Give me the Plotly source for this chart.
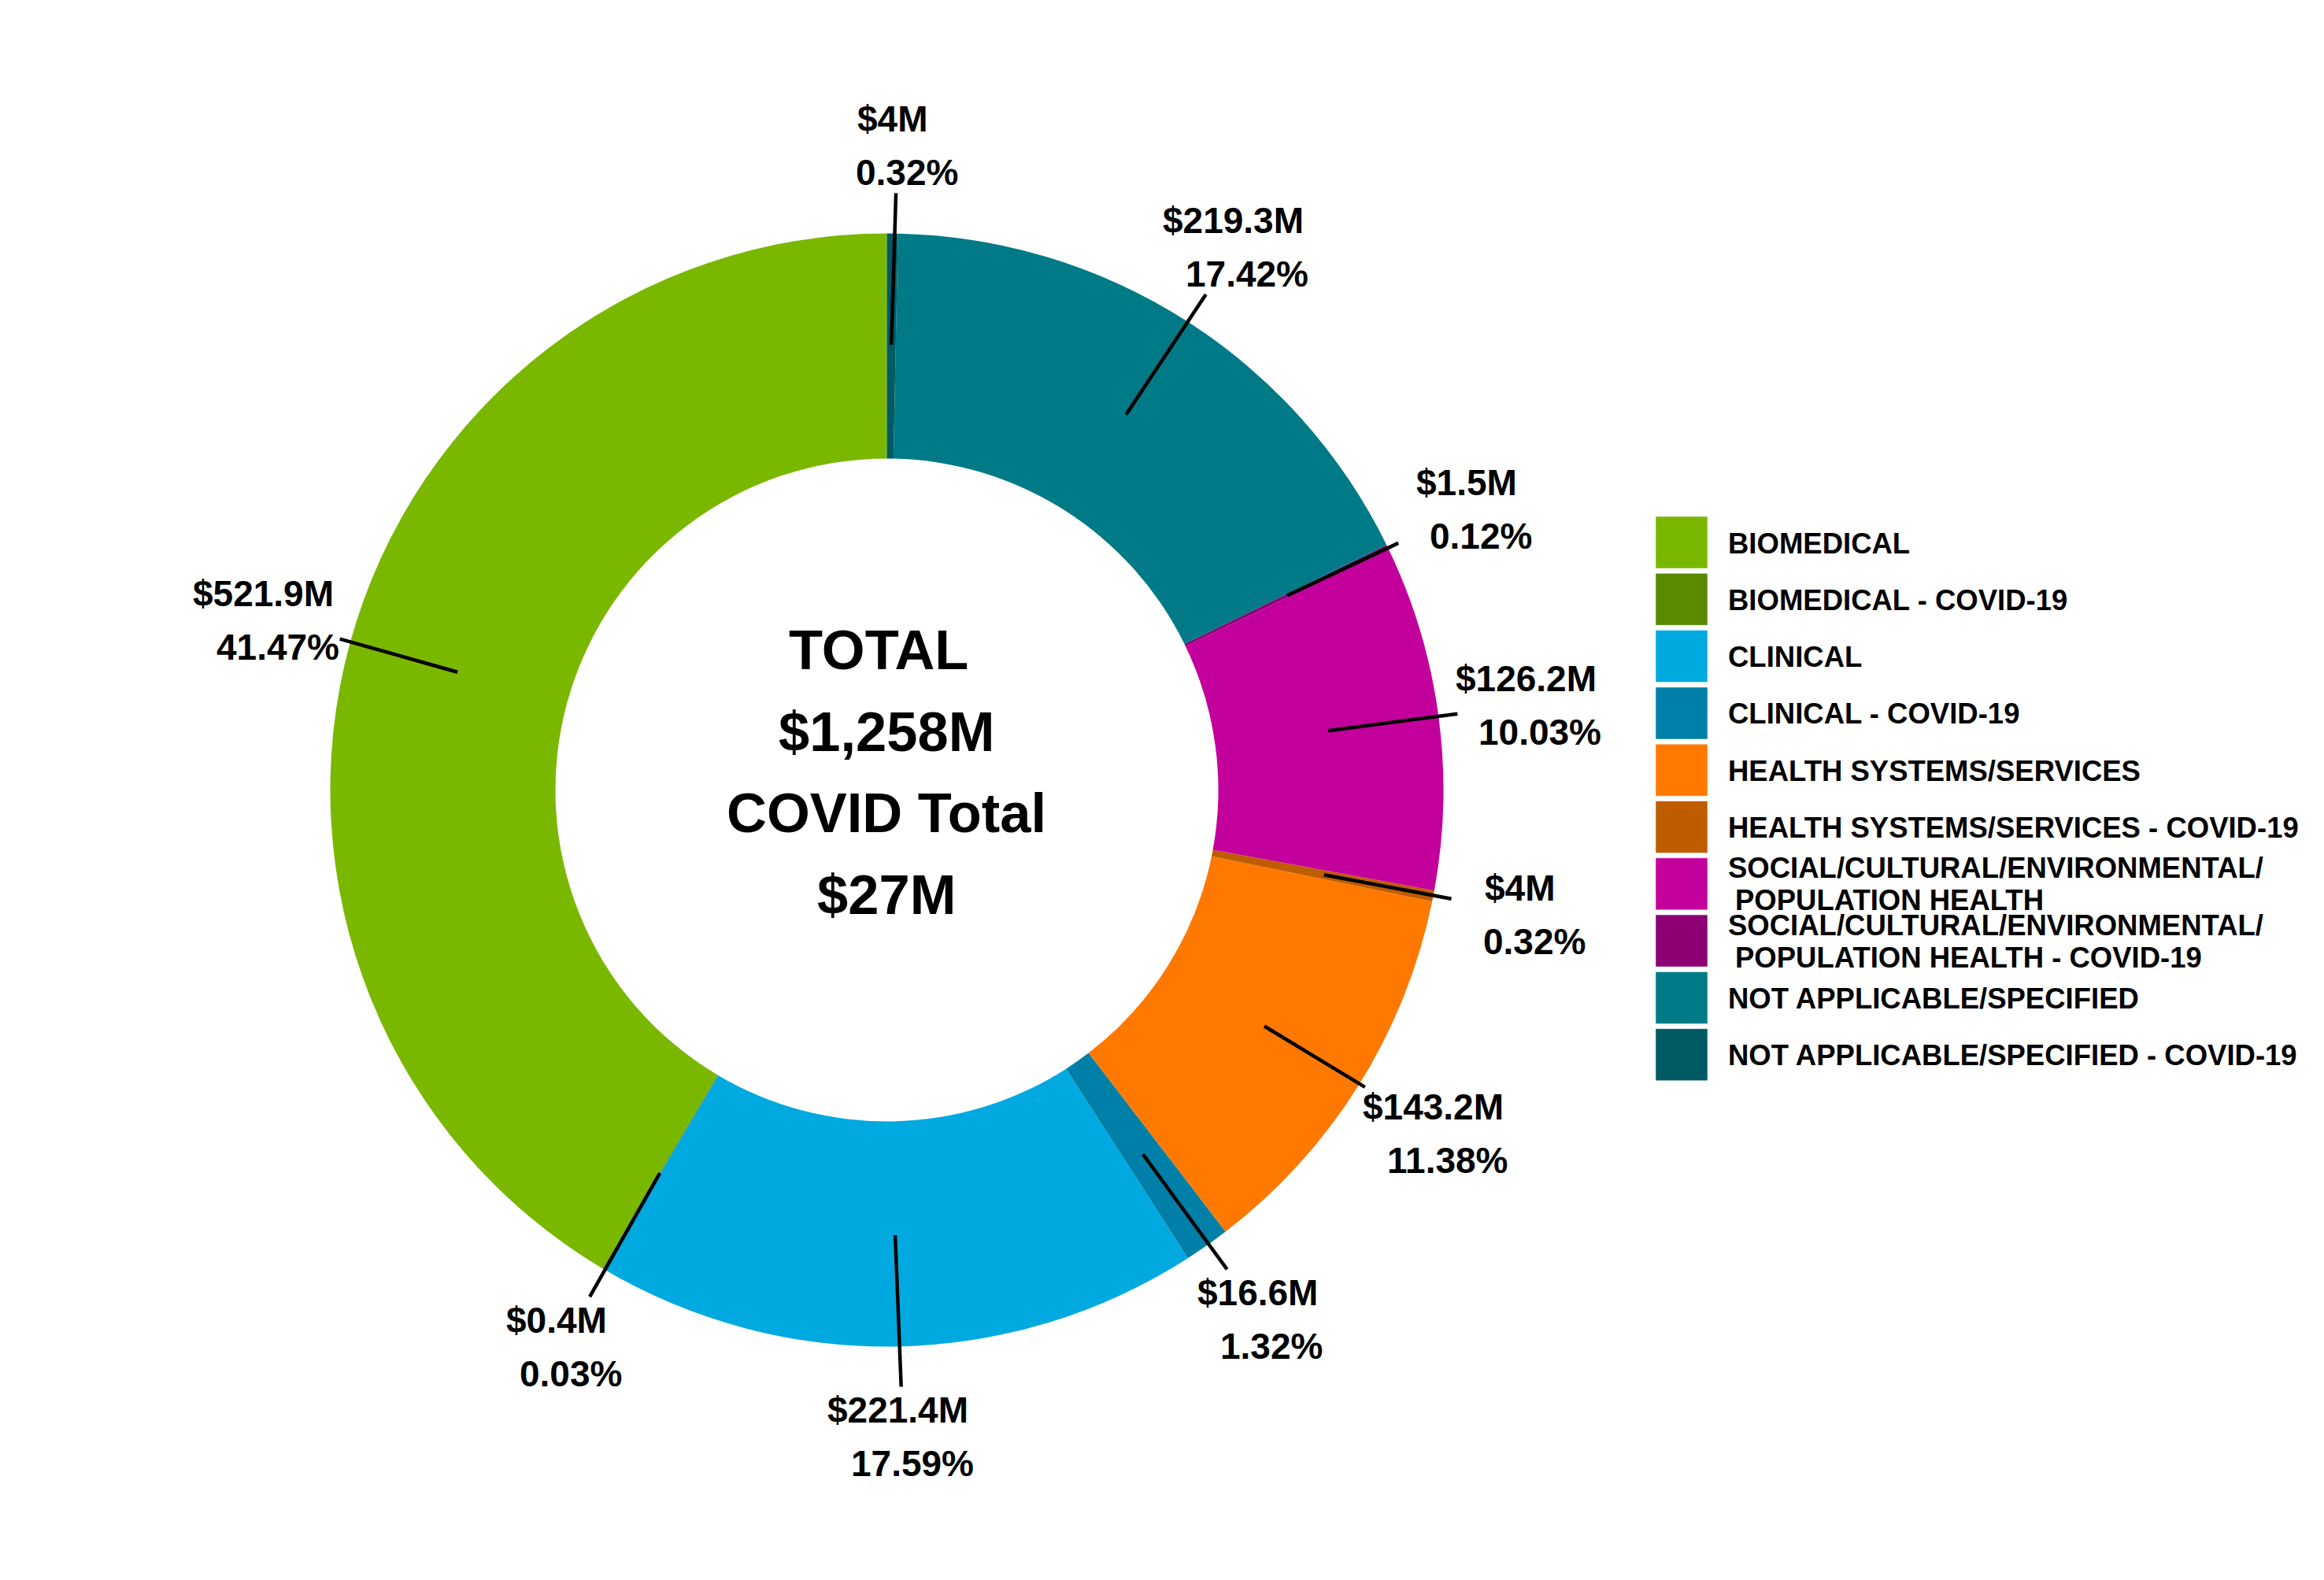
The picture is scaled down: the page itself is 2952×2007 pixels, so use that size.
import math
import plotly.graph_objects as go

W, H = 2952, 2007

# ---- data ----
categories = [
    "BIOMEDICAL",
    "BIOMEDICAL - COVID-19",
    "CLINICAL",
    "CLINICAL - COVID-19",
    "HEALTH SYSTEMS/SERVICES",
    "HEALTH SYSTEMS/SERVICES - COVID-19",
    "SOCIAL/CULTURAL/ENVIRONMENTAL/\n POPULATION HEALTH",
    "SOCIAL/CULTURAL/ENVIRONMENTAL/\n POPULATION HEALTH - COVID-19",
    "NOT APPLICABLE/SPECIFIED",
    "NOT APPLICABLE/SPECIFIED - COVID-19",
]
values = [521.9, 0.4, 221.4, 16.6, 143.2, 4.0, 126.2, 1.5, 219.3, 4.0]
percent_labels = ["41.47%", "0.03%", "17.59%", "1.32%", "11.38%",
                  "0.32%", "10.03%", "0.12%", "17.42%", "0.32%"]
center_lines = ["TOTAL", "$1,258M", "COVID Total", "$27M"]

colors = ["#7AB800", "#5A8A00", "#00A9E0", "#0080A8", "#FF7900",
          "#C05C00", "#C4009C", "#8C0074", "#007A87", "#005A63"]

FONT = "Liberation Sans, Arial, Helvetica, sans-serif"

# ---- layout geometry (pixels in the screenshot) ----
OFF = 8.0  # page body margin
CX, CY, R = 1126.5, 1003.5, 707.0
HOLE = 0.5955


def px(x):
    return (x - OFF) / W


def py(y):
    return 1 - (y - OFF) / H


total = sum(values)

fig = go.Figure()
fig.add_trace(go.Pie(
    labels=[c.replace("\n", "<br>") for c in categories],
    values=values,
    sort=False,
    direction="counterclockwise",
    # in counterclockwise mode plotly places the first slice clockwise of the
    # rotation angle; shift so the first slice starts at 12 o'clock going left
    rotation=-360.0 * values[0] / total,
    hole=HOLE,
    marker=dict(colors=colors, line=dict(width=0)),
    textinfo="none",
    hoverinfo="label+value+percent",
    showlegend=False,
    domain=dict(x=[px(CX - R), px(CX + R)], y=[py(CY + R), py(CY - R)]),
))

shapes = []
annotations = []

cum = 0.0
R_IN = 0.8 * R
R_LAB = 1.16 * R
HW, HH = 92.0, 62.0
LAB_DX, LAB_DY = 8.0, 2.0
for v, pct in zip(values, percent_labels):
    mid = (cum + v / 2) / total
    cum += v
    th = 2 * math.pi * mid
    ux, uy = -math.sin(th), -math.cos(th)  # screen direction (y down)
    t = min(HW / max(abs(ux), 1e-6), HH / max(abs(uy), 1e-6))
    r_end = R_LAB - t
    x0, y0 = CX + R_IN * ux, CY + R_IN * uy
    x1, y1 = CX + r_end * ux, CY + r_end * uy
    shapes.append(dict(type="line", xref="paper", yref="paper",
                       x0=px(x0), y0=py(y0), x1=px(x1 + LAB_DX * 0.5), y1=py(y1),
                       line=dict(color="black", width=4.5)))
    lx, ly = CX + R_LAB * ux + LAB_DX, CY + R_LAB * uy + LAB_DY
    annotations.append(dict(x=px(lx - 9), y=py(ly - 34), xref="paper", yref="paper",
                            text=f"<b>${v:g}M</b>", showarrow=False,
                            xanchor="center", yanchor="middle",
                            font=dict(family=FONT, size=46, color="black")))
    annotations.append(dict(x=px(lx + 9), y=py(ly + 34), xref="paper", yref="paper",
                            text=f"<b>{pct}</b>", showarrow=False,
                            xanchor="center", yanchor="middle",
                            font=dict(family=FONT, size=46, color="black")))

# center text
center_dx = [-11.0, -1.0, -1.0, -1.0]
for i, line in enumerate(center_lines):
    annotations.append(dict(x=px(CX + center_dx[i]), y=py(CY - 178 + i * 103.5),
                            xref="paper", yref="paper",
                            text=f"<b>{line}</b>", showarrow=False,
                            xanchor="center", yanchor="middle",
                            font=dict(family=FONT, size=70.5, color="black")))

# manual legend
LX0, LX1 = 2103.0, 2169.0
LTOP, LPITCH, LSIZE = 656.0, 72.3, 66.0
TX = 2193.0
for i, (cat, col) in enumerate(zip(categories, colors)):
    top = LTOP + i * LPITCH
    shapes.append(dict(type="rect", xref="paper", yref="paper",
                       x0=px(LX0), x1=px(LX1), y0=py(top), y1=py(top + LSIZE),
                       fillcolor=col, line=dict(color="rgba(255,255,255,0.5)", width=1)))
    cy = top + LSIZE / 2
    parts = cat.split("\n")
    if len(parts) == 1:
        offs = [0.0]
    else:
        offs = [-21.0, 20.0]
    for j, (part, off) in enumerate(zip(parts, offs)):
        annotations.append(dict(x=px(TX + (9 if j > 0 else 0)), y=py(cy + off + 1),
                                xref="paper", yref="paper",
                                text=f"<b>{part.strip()}</b>", showarrow=False,
                                xanchor="left", yanchor="middle",
                                font=dict(family=FONT, size=36.5, color="black")))

fig.update_layout(
    width=W, height=H,
    margin=dict(l=0, r=0, t=0, b=0),
    paper_bgcolor="white",
    plot_bgcolor="white",
    shapes=shapes,
    annotations=annotations,
    showlegend=False,
)

fig.write_html("out.html")
